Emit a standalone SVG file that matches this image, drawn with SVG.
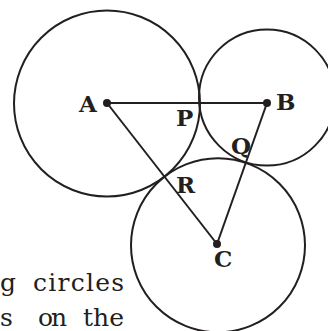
<svg xmlns="http://www.w3.org/2000/svg" width="328" height="331" viewBox="0 0 328 331">
<style>
.c{fill:none;stroke:#231f20;stroke-width:2}
.e{stroke:#231f20;stroke-width:2;fill:none}
.d{fill:#231f20}
.l{font-family:"DejaVu Serif",serif;font-weight:bold;font-size:23px;fill:#231f20}
.t{font-family:"DejaVu Serif",serif;font-size:25px;fill:#231f20}
</style>
<rect width="328" height="331" fill="#fff"/>
<g id="circles">
<circle id="circleA" class="c" cx="107" cy="103.5" r="93"/>
<circle id="circleB" class="c" cx="267" cy="97.5" r="68"/>
<circle id="circleC" class="c" cx="218" cy="245.3" r="87"/>
</g>
<g id="connectors">
<line class="e" x1="107" y1="103" x2="267" y2="103"/>
<line class="e" x1="107" y1="103" x2="217" y2="244"/>
<line class="e" x1="267" y1="103" x2="217" y2="244"/>
</g>
<g id="nodeA"><circle class="d" cx="107" cy="103" r="4"/><text class="l" x="79" y="112">A</text></g>
<g id="nodeB"><circle class="d" cx="267" cy="103" r="4"/><text class="l" x="276" y="110">B</text></g>
<g id="nodeC"><circle class="d" cx="217" cy="244" r="4"/><text class="l" x="214" y="267">C</text></g>
<g id="nodeP"><text class="l" x="176" y="126">P</text></g>
<g id="nodeQ"><text class="l" x="231" y="154">Q</text></g>
<g id="nodeR"><text class="l" x="176" y="193">R</text></g>
<text class="t" y="291"><tspan x="0">g</tspan><tspan x="33" textLength="91">circles</tspan></text>
<text class="t" y="326"><tspan x="0">s</tspan><tspan x="38" textLength="29">on</tspan><tspan x="83" textLength="41">the</tspan></text>
</svg>
